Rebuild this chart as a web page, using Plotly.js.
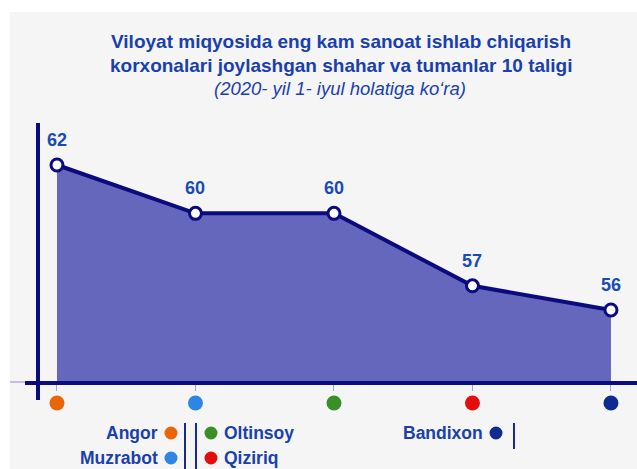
<!DOCTYPE html>
<html>
<head>
<meta charset="utf-8">
<script src="https://cdn.plot.ly/plotly-3.0.1.min.js"></script>
<style>
    body { margin: 0; background: #ffffff; }
    #myPlot { position: absolute; left: 10px; top: 12px; width: 627px; height: 457px; }
</style>
</head>
<body>
<div id="myPlot"></div>
<script>
// tuman / shahar nomlari va korxonalar soni
const districts = ['Angor', 'Muzrabot', 'Oltinsoy', 'Qiziriq', 'Bandixon'];
const counts = [62, 60, 60, 57, 56];
const dotColors = ['#ea6508', '#2f86e0', '#3a8f28', '#e40c0c', '#0c2c92'];

const titleLines = [
    'Viloyat miqyosida eng kam sanoat ishlab chiqarish',
    'korxonalari joylashgan shahar va tumanlar 10 taligi'
];
const subTitle = '(2020- yil 1- iyul holatiga ko‘ra)';

document.addEventListener('DOMContentLoaded', function () {
    const navy = '#0b0b80';
    const textBlue = '#1a3fae';
    const font = 'Liberation Sans, Arial, sans-serif';

    // px helpers for the paper coords (plot area: x 25..637, y 115..469 on the page)
    const px = (x) => (x - 25) / 612;
    const py = (y) => (469 - y) / 354;

    const areaTrace = {
        x: districts,
        y: counts,
        type: 'scatter',
        mode: 'lines+markers',
        fill: 'tozeroy',
        fillcolor: '#6467bb',
        line: { color: navy, width: 4 },
        marker: { size: 12, color: '#ffffff', line: { color: navy, width: 3 } },
        cliponaxis: false,
        hoverinfo: 'x+y'
    };

    const dotTrace = {
        x: districts,
        y: districts.map(() => 0),
        yaxis: 'y2',
        type: 'scatter',
        mode: 'markers',
        marker: { size: 15, color: dotColors },
        hoverinfo: 'x'
    };

    const annotations = [];

    // sarlavha
    titleLines.forEach((line, i) => {
        annotations.push({
            xref: 'paper', yref: 'paper', x: px(341), y: py(42 + i * 23),
            xanchor: 'center', yanchor: 'middle', showarrow: false,
            text: '<b>' + line + '</b>',
            font: { family: font, size: 19, color: textBlue }
        });
    });
    annotations.push({
        xref: 'paper', yref: 'paper', x: px(340), y: py(88),
        xanchor: 'center', yanchor: 'middle', showarrow: false,
        text: '<i>' + subTitle + '</i>',
        font: { family: font, size: 18.5, color: textBlue }
    });

    // qiymatlar
    districts.forEach((d, i) => {
        annotations.push({
            x: d, y: counts[i], yshift: 25, showarrow: false,
            text: '<b>' + counts[i] + '</b>',
            font: { family: font, size: 18, color: '#1a4bb5' }
        });
    });

    // pastki izoh
    const legendItems = [
        { i: 0, x: 171, y: 433, side: 'right' },
        { i: 1, x: 171, y: 458, side: 'right' },
        { i: 2, x: 211, y: 433, side: 'left' },
        { i: 3, x: 211, y: 458, side: 'left' },
        { i: 4, x: 496, y: 433, side: 'right' }
    ];
    const legendDots = [];
    legendItems.forEach(item => {
        annotations.push({
            xref: 'paper', yref: 'paper',
            x: px(item.side === 'right' ? item.x - 11 : item.x + 11), y: py(item.y),
            xanchor: item.side, yanchor: 'middle', showarrow: false,
            text: '<b>' + districts[item.i] + '</b>',
            font: { family: font, size: 17.5, color: textBlue }
        });
        legendDots.push({
            type: 'circle', xref: 'paper', yref: 'paper',
            x0: px(item.x - 6.5), x1: px(item.x + 6.5),
            y0: py(item.y + 6.5), y1: py(item.y - 6.5),
            fillcolor: dotColors[item.i], line: { width: 0 }
        });
    });

    const vline = (x, y0, y1) => ({
        type: 'line', xref: 'paper', yref: 'paper',
        x0: px(x), x1: px(x), y0: py(y0), y1: py(y1),
        line: { color: '#1a2a8a', width: 2 }
    });

    const shapes = [
        // vertikal o'q chizig'i
        {
            type: 'line', xref: 'paper', yref: 'paper',
            x0: px(38), x1: px(38), y0: py(400), y1: py(123),
            line: { color: navy, width: 4 }
        },
        {
            type: 'line', xref: 'paper', yref: 'paper',
            x0: px(10), x1: px(25), y0: py(382), y1: py(382),
            line: { color: '#8a8ae0', width: 1 }
        },
        vline(185, 423, 470),
        vline(196, 423, 470),
        vline(514, 423, 449)
    ].concat(legendDots);

    const layout = {
        width: 627,
        height: 457,
        margin: { l: 15, r: 0, t: 103, b: 0 },
        paper_bgcolor: '#f5f5f5',
        plot_bgcolor: 'rgba(0,0,0,0)',
        showlegend: false,
        xaxis: {
            type: 'category',
            range: [-0.231, 4.188],
            showgrid: false,
            zeroline: false,
            showline: true,
            linecolor: navy,
            linewidth: 4,
            ticks: 'outside',
            ticklen: 6,
            tickwidth: 1,
            tickcolor: '#a0a0ea',
            showticklabels: false,
            anchor: 'y'
        },
        yaxis: {
            domain: [0.2486, 1],
            range: [53.06, 64.07],
            visible: false
        },
        yaxis2: {
            domain: [0.16, 0.213],
            range: [-1, 1],
            visible: false,
            anchor: 'x'
        },
        annotations: annotations,
        shapes: shapes
    };

    Plotly.newPlot('myPlot', [areaTrace, dotTrace], layout, { displayModeBar: false, staticPlot: true });
});
</script>
</body>
</html>
